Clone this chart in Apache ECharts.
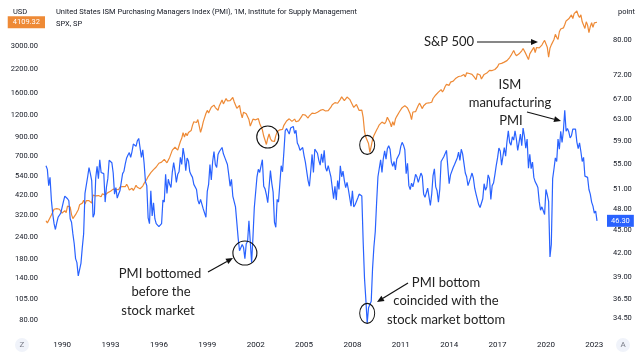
<!DOCTYPE html>
<html>
<head>
<meta charset="utf-8">
<script src="https://cdn.jsdelivr.net/npm/echarts@6/dist/echarts.min.js"></script>
<style>
html, body { margin: 0; padding: 0; background: #fff; }
#chart { width: 640px; height: 354px; }
</style>
</head>
<body>
<div id="chart"></div>
<script>
// monthly categories, Jan 1989 .. Mar 2023
const months = [];
for (let y = 1989; y <= 2023; y++) {
    for (let m = 1; m <= 12; m++) {
        if (y === 2023 && m > 3) break;
        months.push(y + '-' + (m < 10 ? '0' + m : m));
    }
}

// S&P 500 monthly close (SPX, USD)
const spx = [
    297.5, 288.9, 294.9, 309.6, 320.5, 317.9, 346.1, 351.5, 349.2, 340.4, 346.0, 353.4, // 1989
    329.1, 331.9, 339.9, 330.8, 361.2, 358.0, 356.2, 322.6, 306.1, 304.0, 322.2, 330.2, // 1990
    343.9, 367.1, 375.2, 375.3, 389.8, 371.2, 387.8, 395.4, 387.9, 392.5, 375.2, 417.1, // 1991
    408.8, 412.7, 403.7, 414.9, 415.4, 408.1, 424.2, 414.0, 417.8, 418.7, 431.4, 435.7, // 1992
    438.8, 443.4, 451.7, 440.2, 450.2, 450.5, 448.1, 463.6, 458.9, 467.8, 461.8, 466.5, // 1993
    481.6, 467.1, 445.8, 450.9, 456.5, 444.3, 458.3, 475.5, 462.7, 472.4, 453.7, 459.3, // 1994
    470.4, 487.4, 500.7, 514.7, 533.4, 544.8, 562.1, 561.9, 584.4, 581.5, 605.4, 615.9, // 1995
    636.0, 640.4, 645.5, 654.2, 669.1, 670.6, 639.9, 652.0, 687.3, 705.3, 757.0, 740.7, // 1996
    786.2, 790.8, 757.1, 801.3, 848.3, 885.1, 954.3, 899.5, 947.3, 914.6, 955.4, 970.4, // 1997
    980.3, 1049.3, 1101.8, 1111.8, 1090.8, 1133.8, 1120.7, 957.3, 1017.0, 1098.7, 1163.6, 1229.2, // 1998
    1279.6, 1238.3, 1286.4, 1335.2, 1301.8, 1372.7, 1328.7, 1320.4, 1282.7, 1362.9, 1388.9, 1469.3, // 1999
    1394.5, 1366.4, 1498.6, 1452.4, 1420.6, 1454.6, 1430.8, 1517.7, 1436.5, 1429.4, 1315.2, 1320.3, // 2000
    1366.0, 1239.9, 1160.3, 1249.5, 1255.8, 1224.4, 1211.2, 1133.6, 1040.9, 1059.8, 1139.5, 1148.1, // 2001
    1130.2, 1106.7, 1147.4, 1076.9, 1067.1, 989.8, 911.6, 916.1, 815.3, 885.8, 936.3, 879.8, // 2002
    855.7, 841.2, 848.2, 916.9, 963.6, 974.5, 990.3, 1008.0, 996.0, 1050.7, 1058.2, 1111.9, // 2003
    1131.1, 1144.9, 1126.2, 1107.3, 1120.7, 1140.8, 1101.7, 1104.2, 1114.6, 1130.2, 1173.8, 1211.9, // 2004
    1181.3, 1203.6, 1180.6, 1156.9, 1191.5, 1191.3, 1234.2, 1220.3, 1228.8, 1207.0, 1249.5, 1248.3, // 2005
    1280.1, 1280.7, 1294.9, 1310.6, 1270.1, 1270.2, 1276.7, 1303.8, 1335.9, 1377.9, 1400.6, 1418.3, // 2006
    1438.2, 1406.8, 1420.9, 1482.4, 1530.6, 1503.4, 1455.3, 1474.0, 1527.0, 1549.4, 1481.1, 1468.4, // 2007
    1378.6, 1330.6, 1322.7, 1385.6, 1400.4, 1280.0, 1267.4, 1282.8, 1166.4, 968.8, 896.2, 903.3, // 2008
    825.9, 735.1, 797.9, 872.8, 919.1, 919.3, 987.5, 1020.6, 1057.1, 1036.2, 1095.6, 1115.1, // 2009
    1073.9, 1104.5, 1169.4, 1186.7, 1089.4, 1030.7, 1101.6, 1049.3, 1141.2, 1183.3, 1180.6, 1257.6, // 2010
    1286.1, 1327.2, 1325.8, 1363.6, 1345.2, 1320.6, 1292.3, 1218.9, 1131.4, 1253.3, 1247.0, 1257.6, // 2011
    1312.4, 1365.7, 1408.5, 1397.9, 1310.3, 1362.2, 1379.3, 1406.6, 1440.7, 1412.2, 1416.2, 1426.2, // 2012
    1498.1, 1514.7, 1569.2, 1597.6, 1630.7, 1606.3, 1685.7, 1633.0, 1681.6, 1756.5, 1805.8, 1848.4, // 2013
    1782.6, 1859.5, 1872.3, 1884.0, 1923.6, 1960.2, 1930.7, 2003.4, 1972.3, 2018.1, 2067.6, 2058.9, // 2014
    1995.0, 2104.5, 2067.9, 2085.5, 2107.4, 2063.1, 2103.8, 1972.2, 1920.0, 2079.4, 2080.4, 2043.9, // 2015
    1940.2, 1932.2, 2059.7, 2065.3, 2097.0, 2098.9, 2173.6, 2171.0, 2168.3, 2126.2, 2199.0, 2238.8, // 2016
    2278.9, 2363.6, 2362.7, 2384.2, 2411.8, 2423.4, 2470.3, 2471.7, 2519.4, 2575.3, 2647.6, 2673.6, // 2017
    2823.8, 2713.8, 2640.9, 2648.1, 2705.3, 2718.4, 2816.3, 2901.5, 2914.0, 2711.7, 2760.2, 2506.9, // 2018
    2704.1, 2784.5, 2834.4, 2945.8, 2752.1, 2941.8, 2980.4, 2926.5, 2976.7, 3037.6, 3141.0, 3230.8, // 2019
    3225.5, 2954.2, 2584.6, 2912.4, 3044.3, 3100.3, 3271.1, 3500.3, 3363.0, 3270.0, 3621.6, 3756.1, // 2020
    3714.2, 3811.2, 3972.9, 4181.2, 4204.1, 4297.5, 4395.3, 4522.7, 4307.5, 4605.4, 4567.0, 4766.2, // 2021
    4515.6, 4373.9, 4530.4, 4131.9, 4132.2, 3785.4, 4130.3, 3955.0, 3585.6, 3872.0, 4080.1, 3839.5, // 2022
    4076.6, 3970.2, 4109.32 // 2023
];

// ISM manufacturing PMI (points)
const pmi = [
    54.7, 54.1, 51.5, 52.8, 49.3, 47.3, 45.9, 45.1, 46.0, 46.8, 46.8, 47.4, // 1989
    47.2, 49.1, 49.9, 50.0, 49.5, 49.2, 46.6, 46.1, 44.5, 43.2, 41.3, 40.8, // 1990
    39.2, 39.4, 40.7, 42.7, 44.5, 50.3, 50.6, 52.9, 54.4, 53.4, 52.3, 46.8, // 1991
    47.3, 52.7, 54.6, 52.6, 55.7, 53.6, 53.9, 53.4, 49.0, 51.3, 52.6, 55.6, // 1992
    55.8, 55.2, 53.5, 50.2, 51.2, 49.6, 50.2, 50.7, 50.8, 53.4, 53.8, 55.0, // 1993
    56.0, 56.5, 56.9, 56.1, 57.1, 58.4, 58.6, 58.0, 59.0, 59.4, 59.2, 56.1, // 1994
    57.4, 55.1, 52.1, 51.5, 46.7, 45.9, 50.7, 47.0, 48.9, 46.6, 45.9, 45.9, // 1995
    45.5, 45.7, 45.9, 49.3, 49.0, 53.3, 50.3, 52.5, 51.7, 51.2, 53.7, 55.2, // 1996
    53.8, 52.0, 53.3, 53.7, 56.1, 54.9, 57.7, 56.3, 53.9, 56.0, 55.5, 53.7, // 1997
    53.2, 52.8, 51.7, 52.0, 50.9, 49.3, 48.7, 49.4, 48.7, 48.0, 48.2, 46.8, // 1998
    50.6, 51.7, 54.9, 52.4, 55.4, 57.1, 54.9, 54.4, 56.6, 57.1, 57.1, 57.8, // 1999
    56.7, 56.1, 55.8, 54.9, 53.2, 51.4, 52.5, 49.9, 49.9, 48.3, 48.5, 43.9, // 2000
    42.3, 42.1, 43.1, 42.7, 41.3, 43.2, 43.5, 46.3, 46.2, 40.8, 44.1, 48.2, // 2001
    48.3, 52.9, 54.1, 53.6, 53.6, 55.7, 51.4, 51.0, 50.1, 48.9, 49.1, 53.9, // 2002
    51.9, 50.5, 46.1, 45.4, 49.4, 49.0, 51.8, 54.7, 53.7, 57.0, 60.8, 61.2, // 2003
    61.5, 60.2, 61.3, 61.0, 61.6, 60.3, 60.9, 58.6, 58.1, 57.3, 57.6, 57.8, // 2004
    56.4, 55.3, 55.2, 52.3, 51.4, 53.8, 56.6, 53.6, 57.5, 57.2, 56.8, 55.6, // 2005
    54.8, 56.7, 55.2, 57.3, 54.4, 53.8, 54.7, 54.5, 52.9, 51.2, 49.5, 51.4, // 2006
    49.3, 52.3, 50.9, 54.7, 52.9, 53.8, 52.3, 51.2, 52.0, 50.9, 50.8, 48.4, // 2007
    50.7, 48.3, 48.6, 48.6, 49.6, 50.2, 50.0, 49.9, 43.5, 38.9, 36.5, 34.0, // 2008
    35.6, 35.8, 36.3, 40.1, 42.8, 44.8, 48.9, 52.9, 52.6, 55.7, 53.6, 55.9, // 2009
    57.2, 55.8, 57.6, 58.1, 57.5, 55.3, 54.6, 55.4, 54.0, 55.8, 55.9, 56.7, // 2010
    58.0, 58.7, 58.2, 57.4, 53.4, 55.1, 51.5, 50.9, 51.9, 51.3, 52.2, 53.3, // 2011
    52.9, 52.0, 51.9, 53.5, 53.0, 50.2, 49.7, 49.8, 51.1, 51.4, 48.5, 50.2, // 2012
    53.1, 54.2, 51.3, 50.7, 49.0, 50.9, 55.4, 55.7, 56.2, 56.4, 57.3, 57.0, // 2013
    51.8, 53.2, 53.4, 54.4, 54.9, 55.0, 56.0, 57.0, 55.6, 57.5, 56.7, 55.1, // 2014
    53.5, 52.9, 51.5, 51.5, 52.8, 53.5, 52.7, 51.1, 50.2, 50.1, 48.6, 48.2, // 2015
    48.2, 49.5, 51.8, 50.8, 51.3, 53.2, 52.6, 49.4, 51.5, 51.9, 53.2, 54.7, // 2016
    56.0, 57.7, 57.2, 54.8, 54.9, 57.8, 56.3, 58.8, 60.8, 58.7, 58.2, 59.7, // 2017
    59.1, 60.8, 59.3, 57.3, 58.7, 60.2, 58.1, 61.3, 59.8, 57.7, 59.3, 54.3, // 2018
    56.6, 54.2, 55.3, 52.8, 52.1, 51.7, 51.2, 49.1, 47.8, 48.3, 48.1, 47.2, // 2019
    50.9, 50.1, 49.1, 41.5, 43.1, 52.6, 54.2, 56.0, 55.4, 59.3, 57.5, 60.7, // 2020
    58.7, 60.8, 64.7, 60.7, 61.2, 60.6, 59.5, 59.9, 61.1, 60.8, 61.1, 58.8, // 2021
    57.6, 58.6, 57.1, 55.4, 56.1, 53.0, 52.8, 52.8, 50.9, 50.2, 49.0, 48.4, // 2022
    47.4, 47.7, 46.3 // 2023
];

// scale labels
const spxTicks = [80, 105, 140, 180, 240, 320, 420, 540, 700, 900, 1200, 1600, 2200, 3000];
const pmiTicks = [34.5, 36.5, 39, 42, 45, 48, 51, 55, 59, 63, 67, 72, 80];

const ORANGE = '#ee8a36';
const BLUE = '#2962ff';
const TXT = '#131722';
const NOTE_FONT = 'Lato, "Open Sans", sans-serif';

const lastSpx = spx[spx.length - 1];
const lastPmi = pmi[pmi.length - 1];

function arrow(x1, y1, x2, y2) {
    const a = Math.atan2(y2 - y1, x2 - x1);
    const len = 7, w = 3;
    const bx = x2 - len * Math.cos(a), by = y2 - len * Math.sin(a);
    return [
        { type: 'line', shape: { x1: x1, y1: y1, x2: bx, y2: by }, style: { stroke: '#111', lineWidth: 1.2 } },
        { type: 'polygon', shape: { points: [[x2, y2], [bx + w * Math.sin(a), by - w * Math.cos(a)], [bx - w * Math.sin(a), by + w * Math.cos(a)]] }, style: { fill: '#111' } }
    ];
}

function note(x, y, str) {
    return { type: 'text', x: x, y: y, style: { text: str, fill: '#222', font: '13px ' + NOTE_FONT, textAlign: 'center', textVerticalAlign: 'middle' } };
}

function roundBtn(x, str) {
    return [
        { type: 'circle', shape: { cx: x, cy: 345, r: 7 }, style: { fill: '#f0f3fa' } },
        { type: 'text', x: x, y: 345, style: { text: str, fill: '#787b86', font: '8px Roboto', textAlign: 'center', textVerticalAlign: 'middle' } }
    ];
}

const circleStyle = { color: 'rgba(0,0,0,0)', borderColor: '#111', borderWidth: 1.1 };

const option = {
    animation: false,
    backgroundColor: '#fff',
    title: [
        { text: 'USD', left: 8, top: 3, textStyle: { fontSize: 7.5, color: TXT, fontWeight: 'normal', fontFamily: 'Roboto' } },
        { text: 'United States ISM Purchasing Managers Index (PMI), 1M, Institute for Supply Management', left: 51, top: 3,
          textStyle: { fontSize: 7.5, color: TXT, fontWeight: 'normal', fontFamily: 'Roboto' } },
        { text: 'SPX, SP', left: 51, top: 15, textStyle: { fontSize: 7.5, color: TXT, fontWeight: 'normal', fontFamily: 'Roboto' } },
        { text: 'point', left: 613, top: 3, textStyle: { fontSize: 7.5, color: TXT, fontWeight: 'normal', fontFamily: 'Roboto' } }
    ],
    grid: { left: 46, right: 43, top: 0, bottom: 17 },
    xAxis: {
        type: 'category',
        data: months,
        boundaryGap: false,
        axisLine: { show: false },
        axisTick: { show: false },
        splitLine: { show: false },
        axisLabel: {
            margin: 4,
            fontSize: 8,
            fontFamily: 'Roboto',
            color: TXT,
            interval: function (i) { return (i - 12) % 36 === 0; },
            formatter: function (v) { return v.slice(0, 4); }
        }
    },
    yAxis: [
        {
            type: 'log',
            position: 'left',
            min: 63.87,
            max: 5513,
            axisLine: { show: false },
            axisTick: { show: false },
            splitLine: { show: false },
            axisLabel: {
                margin: 8,
                fontSize: 7.5,
                fontFamily: 'Roboto',
                color: TXT,
                customValues: spxTicks,
                formatter: function (v) { return v.toFixed(2); }
            },
            axisPointer: {
                show: true,
                status: 'show',
                value: lastSpx,
                snap: false,
                triggerTooltip: false,
                lineStyle: { opacity: 0 },
                handle: { show: false },
                label: {
                    show: true,
                    margin: 1,
                    fontSize: 7.5,
                    fontFamily: 'Roboto',
                    color: '#fff',
                    backgroundColor: ORANGE,
                    padding: [2, 5, 2, 5],
                    borderRadius: 0,
                    formatter: function (p) { return Number(p.value).toFixed(2); }
                }
            }
        },
        {
            type: 'log',
            position: 'right',
            min: 32.58,
            max: 90.3,
            axisLine: { show: false },
            axisTick: { show: false },
            splitLine: { show: false },
            axisLabel: {
                margin: 16,
                fontSize: 7.5,
                fontFamily: 'Roboto',
                color: TXT,
                customValues: pmiTicks,
                formatter: function (v) { return v.toFixed(2); }
            },
            axisPointer: {
                show: true,
                status: 'show',
                value: lastPmi,
                snap: false,
                triggerTooltip: false,
                lineStyle: { opacity: 0 },
                handle: { show: false },
                label: {
                    show: true,
                    margin: 10,
                    fontSize: 7.5,
                    fontFamily: 'Roboto',
                    color: '#fff',
                    backgroundColor: BLUE,
                    padding: [2, 4, 2, 4],
                    borderRadius: 0,
                    formatter: function (p) { return Number(p.value).toFixed(2); }
                }
            }
        }
    ],
    series: [
        {
            name: 'SPX',
            type: 'line',
            yAxisIndex: 0,
            data: spx,
            showSymbol: false,
            lineStyle: { color: ORANGE, width: 1.2 },
            itemStyle: { color: ORANGE },
            markPoint: {
                symbol: 'circle',
                itemStyle: circleStyle,
                label: { show: false },
                data: [
                    { coord: [months.indexOf('2002-10'), 900], symbolSize: 22 },
                    { coord: [months.indexOf('2008-12'), 810], symbolSize: [15, 19] }
                ]
            }
        },
        {
            name: 'PMI',
            type: 'line',
            yAxisIndex: 1,
            data: pmi,
            showSymbol: false,
            lineStyle: { color: BLUE, width: 1.2 },
            itemStyle: { color: BLUE },
            markPoint: {
                symbol: 'circle',
                itemStyle: circleStyle,
                label: { show: false },
                data: [
                    { coord: [months.indexOf('2001-05'), 42.0], symbolSize: 24 },
                    { coord: [months.indexOf('2008-12'), 35.0], symbolSize: [15, 20] }
                ]
            }
        }
    ],
    graphic: [].concat(
        roundBtn(22, 'Z'),
        roundBtn(623, 'A'),
        [note(449, 42, 'S&P 500')],
        arrow(477, 42, 538, 42),
        [note(510, 85, 'ISM'), note(510, 103, 'manufacturing'), note(511, 121, 'PMI')],
        arrow(527, 112, 561, 121),
        [note(160, 274, 'PMI bottomed'), note(161, 292, 'before the'), note(158, 311, 'stock market')],
        arrow(208, 272, 233, 258),
        [note(446, 283, 'PMI bottom'), note(446, 301, 'coincided with the'), note(446, 320, 'stock market bottom')],
        arrow(408, 283, 377, 302)
    )
};

const chart = echarts.init(document.getElementById('chart'));
chart.setOption(option);
</script>
</body>
</html>
